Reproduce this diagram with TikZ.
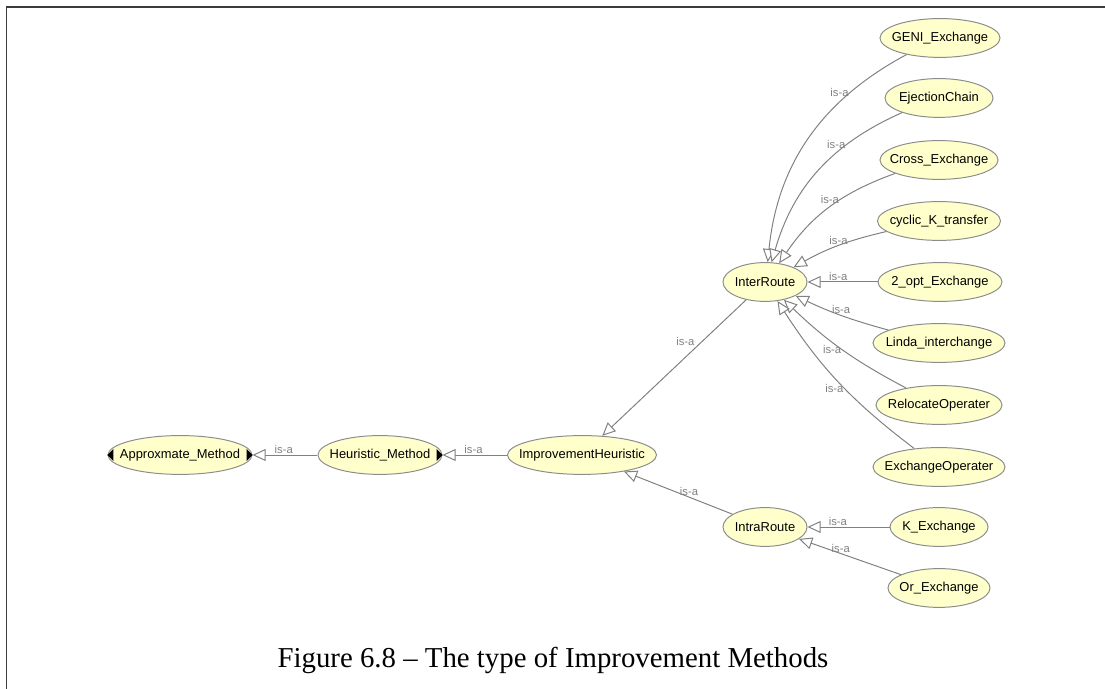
\documentclass[tikz,border=0pt]{standalone}
\usepackage{fontspec}
\usepackage{xcolor}
\usepackage{tikz}
\usetikzlibrary{arrows.meta,shapes.geometric}
\newfontfamily\protegefont{Liberation Sans}
\newfontfamily\captionfont{Liberation Serif}
\definecolor{Cream}{HTML}{FFFFCC}
\definecolor{Ring}{HTML}{8C8C8C}
\definecolor{EdgeGray}{HTML}{808080}
\definecolor{Frame}{HTML}{3C3C3C}

\tikzset{
  cls/.style={ellipse,draw=Ring,fill=Cream,line width=0.7pt,inner xsep=-0.5cm,inner ysep=0pt,minimum height=0.97cm},
  isa/.style={draw=EdgeGray,line width=0.7pt,-{Triangle[open,length=0.33cm,width=0.3cm,fill=white]}},
  lbl/.style={font=\protegefont\fontsize{8}{9}\selectfont,text=EdgeGray,inner sep=0.6pt}
}

\begin{document}
\begin{tikzpicture}[x=0.025cm,y=0.025cm,font=\protegefont\fontsize{9.2}{11}\selectfont]
  \useasboundingbox (0,0) rectangle (1105,689);
  \draw[Frame,line width=1.2pt] (6.5,0) -- (6.5,682) -- (1105,682);

  % class hierarchy, left to right
  \node[cls,minimum width=3.6cm] (approx) at (180,234) {Approxmate\_Method};
  \node[cls,minimum width=3.1cm] (heur) at (380,234) {Heuristic\_Method};
  \node[cls,minimum width=3.725cm] (impr) at (582,234) {ImprovementHeuristic};
  \node[cls,minimum width=2.1cm] (inter) at (765,407) {InterRoute};
  \node[cls,minimum width=2.1cm] (intra) at (765,162) {IntraRoute};

  % leaves
  \node[cls,minimum width=3cm] (geni) at (940,651) {GENI\_Exchange};
  \node[cls,minimum width=2.7cm] (eject) at (939,591) {EjectionChain};
  \node[cls,minimum width=2.95cm] (cross) at (939,529) {Cross\_Exchange};
  \node[cls,minimum width=3.075cm] (cyclic) at (939,468) {cyclic\_K\_transfer};
  \node[cls,minimum width=3.1cm] (twoopt) at (940,407) {2\_opt\_Exchange};
  \node[cls,minimum width=3.3cm] (linda) at (939,346) {Linda\_interchange};
  \node[cls,minimum width=3.15cm] (reloc) at (939,284) {RelocateOperater};
  \node[cls,minimum width=3.3cm] (exop) at (939,222) {ExchangeOperater};
  \node[cls,minimum width=2.45cm] (kex) at (939,162) {K\_Exchange};
  \node[cls,minimum width=2.55cm] (orex) at (939,101) {Or\_Exchange};

  % expand markers
  \fill (approx.west) -- ++(6,6) -- ++(0,-12) -- cycle;
  \fill (approx.east) -- ++(-6,6) -- ++(0,-12) -- cycle;
  \fill (heur.east) -- ++(-6,6) -- ++(0,-12) -- cycle;

  % is-a links
  \draw[isa] (heur) -- node[lbl,above,pos=0.52] {is-a} (approx);
  \draw[isa] (impr) -- node[lbl,above,pos=0.52] {is-a} (heur);
  \draw[isa] (inter) -- node[lbl,anchor=south east,pos=0.35] {is-a} (impr);
  \draw[isa] (intra) -- node[lbl,above,pos=0.4] {is-a} (impr);

  \draw[isa] (geni) to[bend right=28] node[lbl,anchor=east,pos=0.25] {is-a} (inter);
  \draw[isa] (eject) to[bend right=25] node[lbl,anchor=east,pos=0.3] {is-a} (inter);
  \draw[isa] (cross) to[bend right=18] node[lbl,anchor=east,pos=0.4] {is-a} (inter);
  \draw[isa] (cyclic) to[bend right=8] node[lbl,above,pos=0.5] {is-a} (inter);
  \draw[isa] (twoopt) -- node[lbl,above,pos=0.56] {is-a} (inter);
  \draw[isa] (linda) to[bend left=5] node[lbl,above,pos=0.5] {is-a} (inter);
  \draw[isa] (reloc) to[bend left=8] node[lbl,anchor=east,pos=0.49] {is-a} (inter);
  \draw[isa] (exop) to[bend left=10] node[lbl,anchor=east,pos=0.45] {is-a} (inter);

  \draw[isa] (kex) -- node[lbl,above,pos=0.63] {is-a} (intra);
  \draw[isa] (orex) -- node[lbl,above,pos=0.59] {is-a} (intra);

  \node[font=\captionfont\fontsize{20.5}{24}\selectfont] (caption) at (553,29) {Figure 6.8 \textendash{} The type of Improvement Methods};
\end{tikzpicture}
\end{document}
